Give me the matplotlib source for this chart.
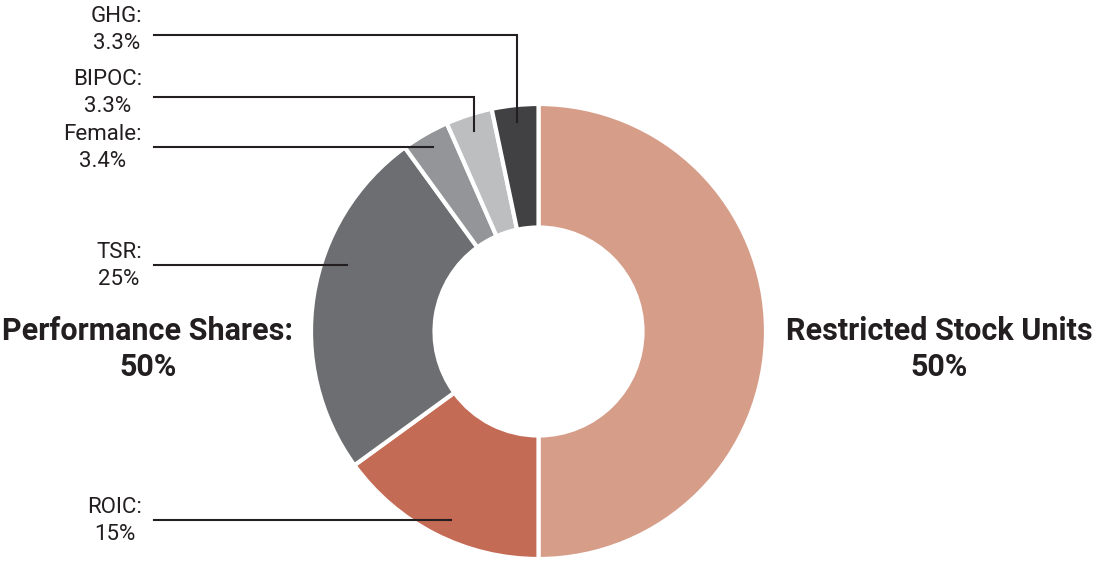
import numpy as np
import matplotlib.pyplot as plt

# slices, clockwise from 12 o'clock
names = ['Restricted Stock Units', 'ROIC', 'TSR', 'Female', 'BIPOC', 'GHG']
values = [50, 15, 25, 3.4, 3.3, 3.3]
pct_labels = ['50%', '15%', '25%', '3.4%', '3.3%', '3.3%']
colors = ['#D69D89', '#C46B56', '#6D6E71', '#939598', '#BCBEC0', '#414042']

group_names = ['Performance Shares:', 'Restricted Stock Units']
group_pcts = ['50%', '50%']

W, H = 1097, 561
cx, cy = 538.5, 331.5          # donut centre in pixel coords (y down)
r_out, r_in = 227.5, 104.0
ink = '#231F20'

def Y(y):
    return H - y

fig = plt.figure(figsize=(W / 100, H / 100), dpi=100)
ax = fig.add_axes([0, 0, 1, 1])

wedges, _ = ax.pie(values, colors=colors, startangle=90, counterclock=False,
                   radius=r_out, center=(cx, Y(cy)),
                   wedgeprops=dict(width=r_out - r_in, edgecolor='white', linewidth=3))

ax.set_xlim(0, W)
ax.set_ylim(0, H)
ax.set_aspect('equal')
ax.axis('off')

# leader lines: (slice index, kind, line y, text centre y, tip radius)
leaders = [
    (5, 'v', 35, 30, 211),
    (4, 'v', 97, 93, 211),
    (3, 'h', 147, 148, 212.5),
    (2, 'h', 265, 266, 203),
    (1, 'h', 520, 521, 208),
]
x0 = 154
for i, kind, ly, ty, rt in leaders:
    w = wedges[i]
    mid = np.deg2rad((w.theta1 + w.theta2) / 2)
    if kind == 'v':
        tx = cx + rt * np.cos(mid)
        tipy = cy - rt * np.sin(mid)
        ax.plot([x0, tx, tx], [Y(ly), Y(ly), Y(tipy)], color=ink, lw=1.5,
                solid_joinstyle='miter')
    else:
        tx = cx - np.sqrt(rt ** 2 - (ly - cy) ** 2)
        ax.plot([x0, tx], [Y(ly), Y(ly)], color=ink, lw=1.5)
    ax.text(142, Y(ty), names[i] + ':\n' + pct_labels[i], ha='right', va='center',
            multialignment='center', fontsize=16, fontfamily='Roboto',
            fontweight='normal', color=ink, linespacing=1.4)

# group headings
for gx, gname, gpct in zip([148, 939], group_names, group_pcts):
    ax.text(gx, Y(349), gname + '\n' + gpct, ha='center', va='center',
            fontsize=22, fontfamily='Roboto', fontweight='bold', color=ink,
            linespacing=1.22)

fig.savefig('out.png', dpi=100, facecolor='white')
